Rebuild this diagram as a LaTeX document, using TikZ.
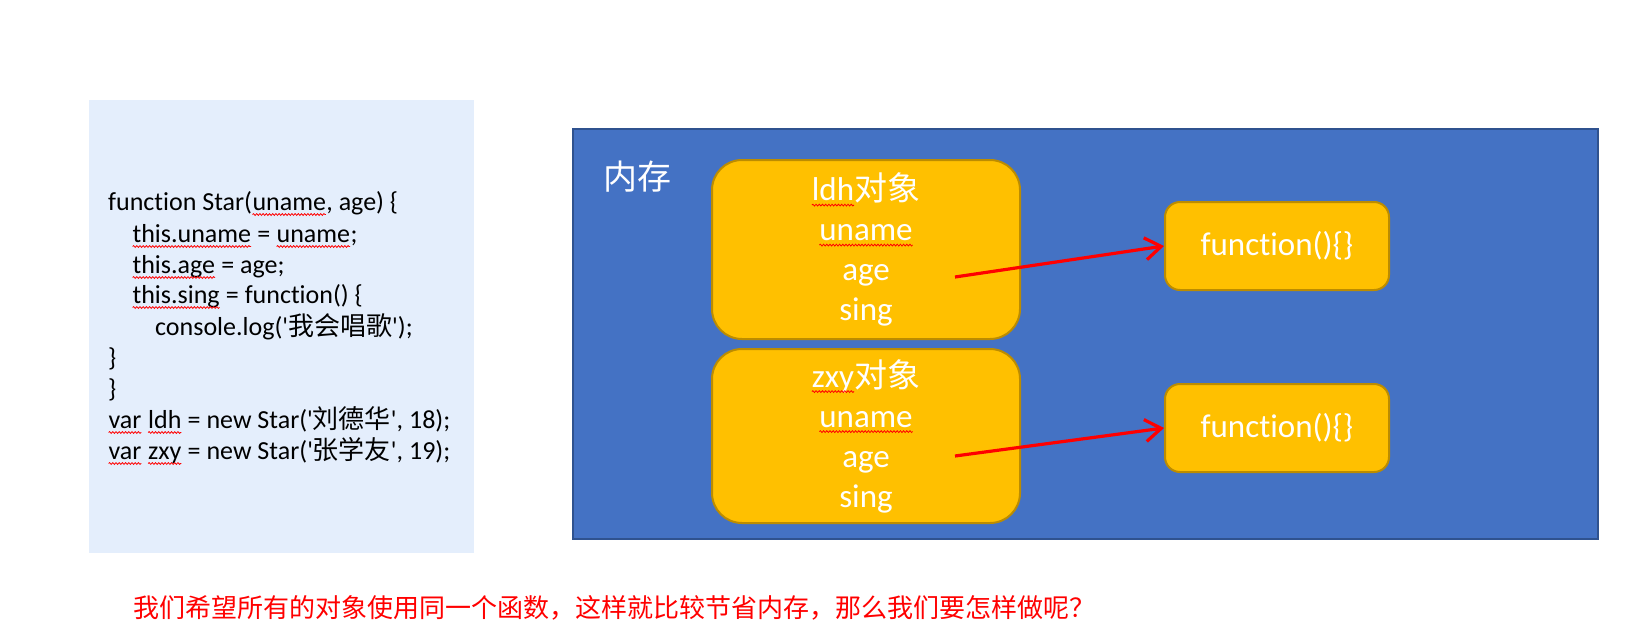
\documentclass[tikz,border=0pt]{standalone}
\usepackage{fontspec}
\setmainfont{Carlito}[Ligatures={TeXOff,NoCommon},RawFeature={-liga;-clig;-calt}]
\newfontfamily\cjk{Noto Sans CJK SC}
\usetikzlibrary{arrows.meta,decorations.pathmorphing}
\definecolor{panel}{RGB}{228,238,252}
\definecolor{membg}{RGB}{68,114,196}
\definecolor{memedge}{RGB}{47,82,143}
\definecolor{gold}{RGB}{255,192,0}
\definecolor{goldedge}{RGB}{188,140,0}
\newcommand\sq[1]{\tikz[baseline=(w.base)]{\node[inner sep=0pt,outer sep=0pt,draw=none,fill=none,rectangle,sharp corners,minimum width=0pt,minimum height=0pt,anchor=base](w){#1};\draw[red,line width=0.8pt,sharp corners,decorate,decoration={snake,amplitude=0.9pt,segment length=3.2pt}]([yshift=-4.5pt]w.base west)--([yshift=-4.5pt]w.base east);}}
\begin{document}
\begin{tikzpicture}[x=1pt,y=-1pt,
  codeline/.style={anchor=base west,inner sep=0pt,font=\fontsize{26}{31}\selectfont,text=black},
  objbox/.style={draw=goldedge,line width=2pt,fill=gold,rounded corners=30pt,minimum width=308pt,text=white,align=center,font=\fontsize{33}{40}\selectfont},
  fnbox/.style={draw=goldedge,line width=2pt,fill=gold,rounded corners=15pt,minimum width=224pt,minimum height=88pt,text=white,font=\fontsize{33}{40}\selectfont},
  ptr/.style={draw=red,line width=3.2pt,-{Straight Barb[length=16pt,width=22pt]}}
]
\useasboundingbox (0,0) rectangle (1643,632);
\fill[white] (0,0) rectangle (1643,632);
\node[fill=panel,minimum width=385pt,minimum height=453pt,inner sep=0pt,anchor=north west] (panel) at (89,100) {};
\node[codeline] (c1) at (108,210) {function Star(\sq{uname}, age) \{};
\node[codeline] (c2) at (132,242) {\sq{this.uname} = \sq{uname};};
\node[codeline] (c3) at (132,273) {\sq{this.age} = age;};
\node[codeline] (c4) at (132,303) {\sq{this.sing} = function() \{};
\node[codeline] (c5) at (155,335) {console.log('{\cjk 我会唱歌}');};
\node[codeline] (c6) at (108,366) {\}};
\node[codeline] (c7) at (108,397) {\}};
\node[codeline] (c8) at (108,428) {\sq{var} \sq{ldh} = new Star('{\cjk 刘德华}', 18);};
\node[codeline] (c9) at (108,459) {\sq{var} \sq{zxy} = new Star('{\cjk 张学友}', 19);};

\node[fill=membg,draw=memedge,line width=1.5pt,minimum width=1025pt,minimum height=410pt,inner sep=0pt,anchor=north west] (mem) at (572,128) {};
\node[anchor=base west,inner sep=0pt,text=white,font=\cjk\fontsize{34}{40}\selectfont] (memlabel) at (603,189) {内存};

\node[objbox,minimum height=179pt] (ldh) at (866,249.5) {\sq{ldh}{\cjk 对象}\\\sq{uname}\\age\\sing};
\node[objbox,minimum height=174pt] (zxy) at (866,436) {\sq{zxy}{\cjk 对象}\\\sq{uname}\\age\\sing};
\node[fnbox] (f1) at (1277,246) {function()\{\}};
\node[fnbox] (f2) at (1277,428) {function()\{\}};

\coordinate (a1) at (955,277);
\coordinate (a2) at (955,456);
\draw[ptr] (a1) -- (f1.west);
\draw[ptr] (a2) -- (f2.west);

\node[anchor=base west,inner sep=0pt,text=red,font=\cjk\fontsize{26}{30}\selectfont] (question) at (133,617) {我们希望所有的对象使用同一个函数，这样就比较节省内存，那么我们要怎样做呢？};
\end{tikzpicture}
\end{document}
